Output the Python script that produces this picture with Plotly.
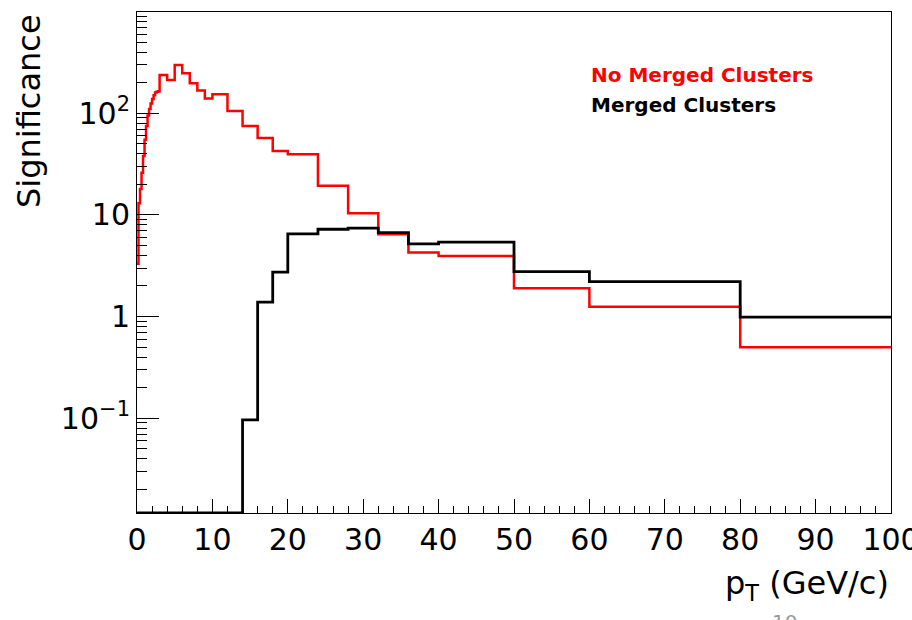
import plotly.graph_objects as go

# ---------------- data ----------------
pt_edges = [0.0, 0.2, 0.4, 0.6, 0.8, 1.0, 1.2, 1.4, 1.6, 1.8, 2.0, 2.2, 2.4, 2.6, 2.8,
            3, 4, 5, 6, 7, 8, 9, 10, 12, 14, 16, 18, 20, 24, 28, 32, 36, 40, 50, 60, 80, 100]

sig_no_merged = [3.3, 13, 18, 26, 38, 55, 75, 95, 110, 125, 138, 150, 160, 163, 165,
                 238, 212, 298, 247, 197, 167, 140,
                 154, 105, 75, 57, 42.6,
                 39.5, 19.4, 10.4, 6.46, 4.26,
                 3.95, 1.90, 1.25, 0.50]

sig_merged = [0, 0, 0, 0, 0, 0, 0, 0, 0, 0, 0, 0, 0, 0, 0,
              0, 0, 0, 0, 0, 0, 0,
              0, 0, 0.0965, 1.39, 2.74,
              6.5, 7.23, 7.4, 6.7, 5.2,
              5.39, 2.77, 2.21, 0.99]

x_ticks = [0, 10, 20, 30, 40, 50, 60, 70, 80, 90, 100]
x_tick_labels = ["0", "10", "20", "30", "40", "50", "60", "70", "80", "90", "100"]
y_ticks = [0.1, 1, 10, 100]
y_tick_labels = ["10<sup>\u22121</sup>", "1", "10", "10<sup>2</sup>"]

series_names = ["No Merged Clusters", "Merged Clusters"]
series_colors = ["#ff0000", "#000000"]

# ---------------- figure ----------------
Y_LOG_MIN, Y_LOG_MAX = -1.932, 2.996
floor_val = 10 ** Y_LOG_MIN


def step_y(vals):
    y = [v if v > 0 else floor_val for v in vals]
    return y + [y[-1]]


y_minor = []
for dec in [0.01, 0.1, 1, 10, 100]:
    for k in range(2, 10):
        y_minor.append(dec * k)

FONT = "DejaVu Sans"

fig = go.Figure()
fig.add_trace(go.Scatter(x=pt_edges, y=step_y(sig_no_merged), mode="lines",
                         line=dict(color=series_colors[0], width=2.5, shape="hv"),
                         name=series_names[0], showlegend=False, hoverinfo="skip"))
fig.add_trace(go.Scatter(x=pt_edges, y=step_y(sig_merged), mode="lines",
                         line=dict(color=series_colors[1], width=2.8, shape="hv"),
                         name=series_names[1], showlegend=False, hoverinfo="skip"))

W, H = 912, 620
L, R, T, B = 137, 21, 12, 107
pw, ph = W - L - R, H - T - B


def px2x(px):
    return (px - L) / pw


def py2y(py):
    return (H - B - py) / ph


fig.update_layout(
    width=W, height=H,
    margin=dict(l=L, r=R, t=T, b=B, autoexpand=False),
    paper_bgcolor="white", plot_bgcolor="white",
    font=dict(family=FONT, color="black"),
    xaxis=dict(range=[0, 100], tickmode="array", tickvals=x_ticks, ticktext=x_tick_labels,
               ticks="inside", ticklen=14, tickwidth=1, tickcolor="black",
               minor=dict(dtick=2, tick0=0, ticks="inside", ticklen=7, tickwidth=1, tickcolor="black"),
               showline=True, linecolor="black", linewidth=1, mirror=True,
               ticklabeloverflow="allow", automargin=False,
               showgrid=False, zeroline=False, tickfont=dict(size=30, family=FONT)),
    yaxis=dict(type="log", range=[Y_LOG_MIN, Y_LOG_MAX], tickmode="array",
               tickvals=y_ticks, ticktext=y_tick_labels,
               ticks="inside", ticklen=22, tickwidth=1, tickcolor="black",
               minor=dict(tickmode="array", tickvals=y_minor, ticks="inside", ticklen=10,
                          tickwidth=1, tickcolor="black"),
               showline=True, linecolor="black", linewidth=1, mirror=True,
               automargin=False,
               showgrid=False, zeroline=False, tickfont=dict(size=30, family=FONT)),
    annotations=[
        dict(text="Significance", textangle=-90, xref="paper", yref="paper",
             x=px2x(29), y=py2y(12), xanchor="center", yanchor="top", showarrow=False,
             font=dict(size=32, family=FONT, color="black")),
        dict(text="p<sub>T</sub> (GeV/c)", xref="paper", yref="paper",
             x=px2x(891), y=py2y(585), xanchor="right", yanchor="middle", showarrow=False,
             font=dict(size=32, family=FONT, color="black")),
        dict(text="<b>" + series_names[0] + "</b>", xref="paper", yref="paper",
             x=px2x(589), y=py2y(75), xanchor="left", yanchor="middle", showarrow=False,
             font=dict(size=20, family=FONT, color=series_colors[0])),
        dict(text="<b>" + series_names[1] + "</b>", xref="paper", yref="paper",
             x=px2x(589), y=py2y(105), xanchor="left", yanchor="middle", showarrow=False,
             font=dict(size=20, family=FONT, color=series_colors[1])),
        dict(text="10", xref="paper", yref="paper",
             x=px2x(784), y=py2y(608), xanchor="center", yanchor="top", showarrow=False,
             font=dict(size=20, family=FONT, color="#999999")),
    ],
)

fig.write_html("out.html")
